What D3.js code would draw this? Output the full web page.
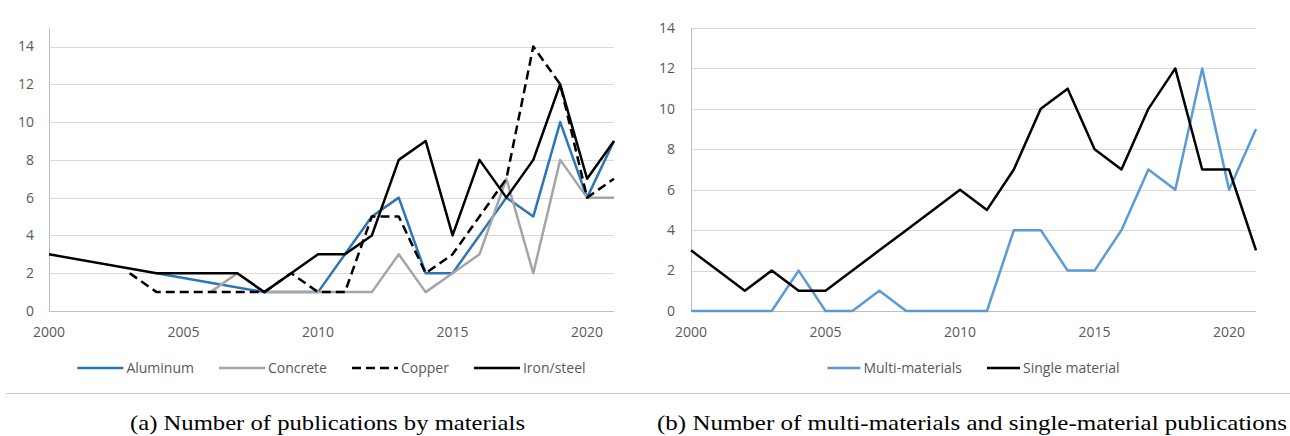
<!DOCTYPE html>
<html>
<head>
<meta charset="utf-8">
<script src="https://cdn.jsdelivr.net/npm/d3@7"></script>
<style>
  body { margin: 0; background: #fff; }
  .tick-label { font-family: "Open Sans", sans-serif; font-size: 14px; fill: #595959; }
  .legend-label { font-family: "Open Sans", sans-serif; font-size: 14px; fill: #595959; }
  .caption { font-family: "Liberation Serif", serif; font-size: 21px; fill: #000; }
  .grid { stroke: #d9d9d9; stroke-width: 1; }
  .axis-line { stroke: #bfbfbf; stroke-width: 1; }
</style>
</head>
<body>
<div class="charts"></div>
<script>
// years on the category axis
const years = [2000, 2001, 2002, 2003, 2004, 2005, 2006, 2007, 2008, 2009, 2010,
  2011, 2012, 2013, 2014, 2015, 2016, 2017, 2018, 2019, 2020, 2021];
const xTickLabels = ["2000", "2005", "2010", "2015", "2020"];
const yTickLabels = ["0", "2", "4", "6", "8", "10", "12", "14"];

// (a) publications by material (null = no data, gap is bridged)
const aluminum = [null, null, null, null, 2, null, null, null, 1, 1, 1, 3, 5, 6, 2, 2, 4, 6, 5, 10, 6, 9];
const concrete = [null, null, null, null, null, null, 1, 2, 1, 1, 1, 1, 1, 3, 1, 2, 3, 7, 2, 8, 6, 6];
const copper = [null, null, null, 2, 1, 1, 1, 1, 1, 2, 1, 1, 5, 5, 2, 3, 5, 7, 14, 12, 6, 7];
const ironSteel = [3, null, null, null, 2, 2, 2, 2, 1, 2, 3, 3, 4, 8, 9, 4, 8, 6, 8, 12, 7, 9];

// (b) multi vs single material
const multiMaterials = [0, 0, 0, 0, 2, 0, 0, 1, 0, 0, 0, 0, 4, 4, 2, 2, 4, 7, 6, 12, 6, 9];
const singleMaterial = [3, 2, 1, 2, 1, 1, 2, 3, 4, 5, 6, 5, 7, 10, 11, 8, 7, 10, 12, 7, 7, 3];

const seriesA = [
  { name: "Aluminum", values: aluminum, color: "#2e75b6", dash: null },
  { name: "Concrete", values: concrete, color: "#a5a5a5", dash: null },
  { name: "Copper", values: copper, color: "#000000", dash: "9,5" },
  { name: "Iron/steel", values: ironSteel, color: "#000000", dash: null },
];
const seriesB = [
  { name: "Multi-materials", values: multiMaterials, color: "#5b9bd5", dash: null },
  { name: "Single material", values: singleMaterial, color: "#000000", dash: null },
];

const W = 1290, H = 436;

const svg = d3
  .select(".charts")
  .append("svg")
  .attr("width", W)
  .attr("height", H);

function drawPanel(opts) {
  const g = svg.append("g");
  const x = d3.scaleLinear().domain([2000, 2021]).range([opts.left, opts.right]);
  const y = d3.scaleLinear().domain([0, 14]).range([opts.bottom, opts.top14]);

  // gridlines
  g.selectAll(".grid")
    .data(yTickLabels.slice(1))
    .enter()
    .append("line")
    .attr("class", "grid")
    .attr("x1", opts.left)
    .attr("x2", opts.right)
    .attr("y1", (d) => Math.round(y(+d)) + 0.5)
    .attr("y2", (d) => Math.round(y(+d)) + 0.5);

  // axis lines
  g.append("line")
    .attr("class", "axis-line")
    .attr("x1", opts.left)
    .attr("x2", opts.right)
    .attr("y1", Math.round(y(0)) + 0.5)
    .attr("y2", Math.round(y(0)) + 0.5);
  g.append("line")
    .attr("class", "axis-line")
    .attr("x1", Math.round(opts.left) + 0.5)
    .attr("x2", Math.round(opts.left) + 0.5)
    .attr("y1", y(opts.axisTop))
    .attr("y2", y(0));

  // y tick labels
  g.selectAll(".ylab")
    .data(yTickLabels)
    .enter()
    .append("text")
    .attr("class", "tick-label")
    .attr("x", opts.yLabelX)
    .attr("y", (d) => y(+d))
    .attr("dy", "0.35em")
    .attr("text-anchor", "end")
    .text((d) => d);

  // x tick labels
  g.selectAll(".xlab")
    .data(xTickLabels)
    .enter()
    .append("text")
    .attr("class", "tick-label")
    .attr("x", (d) => x(+d))
    .attr("y", 337)
    .attr("text-anchor", "middle")
    .text((d) => d);

  const line = d3
    .line()
    .x((d) => x(d[0]))
    .y((d) => y(d[1]));

  opts.series.forEach((s) => {
    const pts = years.map((yr, i) => [yr, s.values[i]]).filter((p) => p[1] !== null);
    g.append("path")
      .datum(pts)
      .attr("d", line)
      .attr("fill", "none")
      .attr("stroke", s.color)
      .attr("stroke-width", 2.5)
      .attr("stroke-linejoin", "round")
      .attr("stroke-dasharray", s.dash);
  });

  // legend, centred under the plot
  const leg = g.append("g");
  let cx = 0;
  opts.series.forEach((s) => {
    leg.append("line")
      .attr("x1", cx)
      .attr("x2", cx + opts.legLine)
      .attr("y1", 368)
      .attr("y2", 368)
      .attr("stroke", s.color)
      .attr("stroke-width", 2.5)
      .attr("stroke-dasharray", s.dash);
    const t = leg.append("text")
      .attr("class", "legend-label")
      .attr("x", cx + opts.legLine + 3)
      .attr("y", 373)
      .text(s.name);
    cx += opts.legLine + 3 + t.node().getComputedTextLength() + 25;
  });
  const legW = cx - 25;
  leg.attr("transform", `translate(${(opts.left + opts.right) / 2 - legW / 2},0)`);

  // caption
  svg.append("text")
    .attr("class", "caption")
    .attr("x", opts.capX)
    .attr("y", 430)
    .attr("textLength", opts.capW)
    .attr("lengthAdjust", "spacingAndGlyphs")
    .text(opts.caption);
}

drawPanel({
  left: 49, right: 614, bottom: 311, top14: 46.5, axisTop: 15, yLabelX: 34,
  series: seriesA, legLine: 46,
  caption: "(a) Number of publications by materials", capX: 130, capW: 395,
});

drawPanel({
  left: 691, right: 1256, bottom: 311, top14: 28, axisTop: 14, yLabelX: 675,
  series: seriesB, legLine: 33,
  caption: "(b) Number of multi-materials and single-material publications", capX: 657, capW: 630,
});

// separator under the legends
svg.append("line")
  .attr("x1", 6)
  .attr("x2", W)
  .attr("y1", 393.5)
  .attr("y2", 393.5)
  .attr("stroke", "#c8c8c8")
  .attr("stroke-width", 1);
</script>
</body>
</html>
